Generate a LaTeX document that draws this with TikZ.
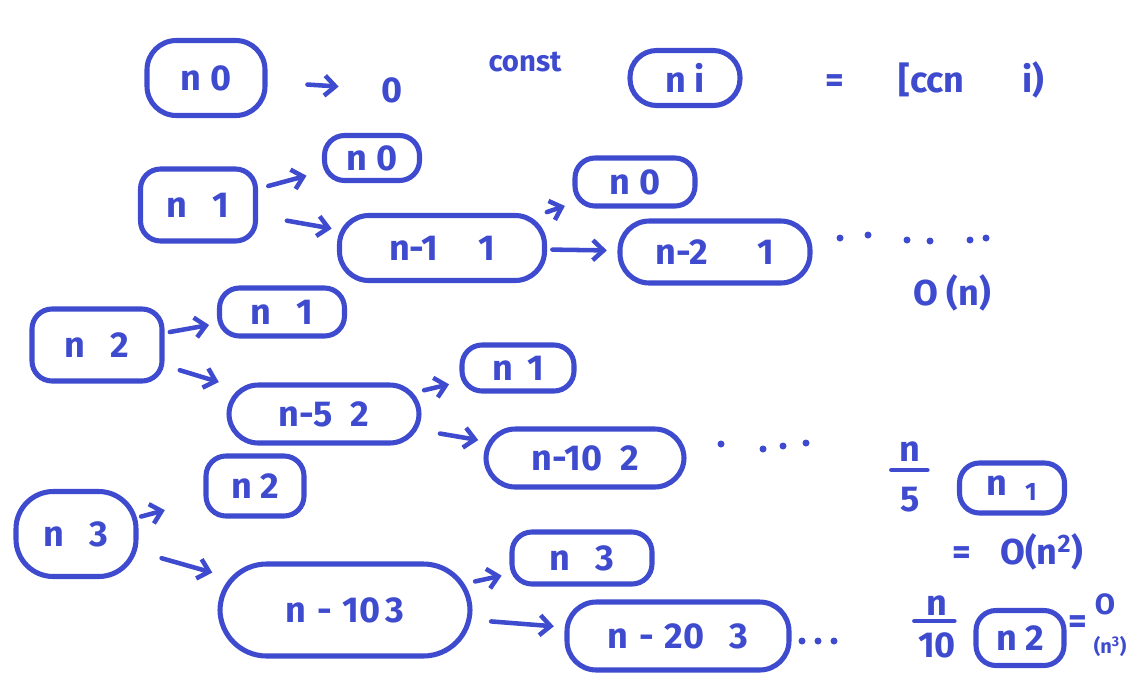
\documentclass[tikz,border=0pt]{standalone}
\usepackage{fontspec}
\setmainfont{Fira Sans}
\usetikzlibrary{arrows.meta}
\definecolor{ink}{HTML}{3F4BCF}
\begin{document}
\begin{tikzpicture}[x=0.75pt,y=-0.75pt,
  every node/.style={text=ink},
  box/.style 2 args={draw=ink, line width=3.8pt, rounded corners=15pt,
    minimum width={#1*0.75pt}, minimum height={#2*0.75pt}, inner sep=0pt,
    font=\fontsize{27}{30}\selectfont\bfseries},
  lbl/.style={font=\fontsize{27}{30}\selectfont\bfseries, inner sep=0pt},
  small/.style={font=\fontsize{22}{24}\selectfont\bfseries, inner sep=0pt},
  arr/.style={draw=ink, line width=3.4pt, line cap=round,
    -{Straight Barb[length=8pt,width=15pt,line width=3.4pt]}},
  bar/.style={draw=ink, line width=3.4pt, line cap=round},
]
\useasboundingbox (0,0) rectangle (1142,672);

% top line
\node[box={118}{75}, rounded corners=22pt] (A0) at (206,78) {n 0};
\node[lbl] (Z) at (392,90) {0};
\draw[arr, shorten <=30pt, shorten >=32pt] (A0) -- (Z);
\node[small] (C) at (525,62) {const};
\node[box={110}{55}, rounded corners=20pt] (Ai) at (685,78) {n i};
\node[lbl] (Eq) at (935,80) {=\hspace{1.5em}[ccn\hspace{1.6em}i)};

% row n 1
\node[box={115}{72}] (B) at (198,205) {n\hspace{0.7em}1};
\node[box={95}{45}] (B0) at (372,158) {n 0};
\node[box={205}{65}, rounded corners=22pt] (B1) at (442,248) {n-1\hspace{1.1em}1};
\node[box={120}{48}] (B10) at (635,182) {n 0};
\node[box={190}{62}, rounded corners=22pt] (B2) at (715,252) {n-2\hspace{1.4em}1};
\draw[arr, shorten <=8pt, shorten >=12pt] (B) -- (B0);
\draw[arr, shorten <=22pt, shorten >=4pt] (B) -- (B1);
\draw[arr, shorten <=2pt, shorten >=6pt] (B1) -- (B10);
\draw[arr, shorten <=4pt, shorten >=8pt] (B1) -- (B2);
\foreach \x/\y in {840/238, 868/235, 907/240, 930/241, 970/240, 986/238}
  \fill[ink] (\x,\y) circle (3.5);
\node[lbl] (On) at (952,293) {O (n)};

% row n 2
\node[box={130}{72}] (Cn) at (97,345) {n\hspace{0.7em}2};
\node[box={125}{48}] (C0) at (282,312) {n\hspace{0.7em}1};
\node[box={190}{58}, rounded corners=22pt] (C1) at (324,414) {n-5\hspace{0.5em}2};
\node[box={112}{46}] (C10) at (518,368) {n\hspace{0.4em}1};
\node[box={198}{58}, rounded corners=22pt] (C2) at (585,458) {n-10\hspace{0.5em}2};
\draw[arr, shorten <=4pt, shorten >=6pt] (Cn) -- (C0);
\draw[arr, shorten <=12pt, shorten >=6pt] (Cn) -- (C1);
\draw[arr, shorten <=2pt, shorten >=8pt] (C1) -- (C10);
\draw[arr, shorten <=14pt, shorten >=4pt] (C1) -- (C2);
\foreach \x/\y in {721/444, 763/449, 783/446, 806/443}
  \fill[ink] (\x,\y) circle (3.5);

% right: n/5
\node[lbl] (N5a) at (910,452) {n};
\node[lbl] (N5b) at (910,500) {5};
\draw[bar] (N5a.south west) ++(-8,8) -- ++(36,0);
\node[box={105}{50}] (R1) at (1012,488) {n\hspace{0.5em}\textsubscript{1}};
\node[lbl] (On2) at (1018,552) {=\hspace{0.8em}O(n\textsuperscript{2})};

% row n 3
\node[box={120}{85}, rounded corners=28pt] (Dn) at (76,534) {n\hspace{0.7em}3};
\node[box={98}{60}] (D0) at (255,486) {n 2};
\node[box={250}{92}, rounded corners=35pt] (D1) at (345,610) {n\hspace{0.3em}-\hspace{0.3em}10\hspace{0.15em}3};
\node[box={140}{52}] (D10) at (582,558) {n\hspace{0.7em}3};
\node[box={222}{68}, rounded corners=22pt] (D2) at (678,636) {n\hspace{0.3em}-\hspace{0.3em}20\hspace{0.7em}3};
\draw[arr, shorten <=2pt, shorten >=30pt] (Dn) -- (D0);
\draw[arr, shorten <=18pt, shorten >=4pt] (Dn) -- (D1);
\draw[arr, shorten <=2pt, shorten >=6pt] (D1) -- (D10);
\draw[arr, shorten <=14pt, shorten >=8pt] (D1) -- (D2);
\foreach \x/\y in {802/641, 818/641, 834/641}
  \fill[ink] (\x,\y) circle (3.5);

% right: n/10
\node[lbl] (N10a) at (937,606) {n};
\node[lbl] (N10b) at (937,645) {10};
\draw[bar] (N10a.south west) ++(-12,5) -- ++(40,0);
\node[box={88}{55}] (R2) at (1020,638) {n 2};
\node[lbl] (Eq3) at (1078,625) {=};
\node[small] (O3) at (1105,604) {O};
\node[small, font=\fontsize{15}{17}\selectfont\bfseries] (N3) at (1110,646) {(n\textsuperscript{3})};
\end{tikzpicture}
\end{document}
